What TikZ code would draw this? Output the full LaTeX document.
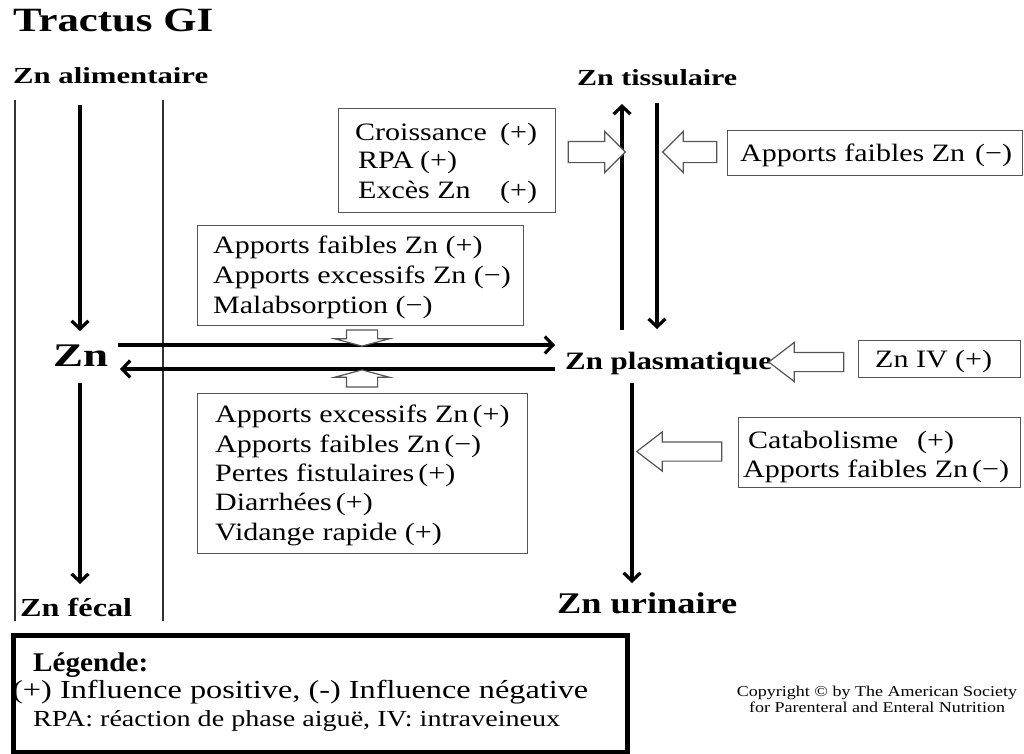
\documentclass[tikz,border=0pt]{standalone}
\usepackage{fontspec}
\setmainfont{Liberation Serif}
\newfontfamily\rmw[FakeStretch=1.2]{Liberation Serif}
\usepackage{graphicx}
\usetikzlibrary{arrows.meta,shapes.arrows}
\definecolor{boxgray}{HTML}{555555}
\newcommand{\hd}[3]{\resizebox{#1pt}{\height}{\fontsize{#2}{#2}\selectfont\bfseries #3}}
\newcommand{\rw}[3]{\resizebox{#1pt}{\height}{\fontsize{#2}{#2}\selectfont #3}}
\tikzset{
  txt/.style={anchor=base west, inner sep=0pt, font=\rmw\fontsize{25}{30}\selectfont},
  head/.style={anchor=base west, inner sep=0pt},
  box/.style={draw=boxgray, line width=1.3pt, anchor=north west, inner sep=0pt},
  hollow/.style n args={3}{single arrow, draw=boxgray, line width=1.2pt, fill=white,
     inner xsep=0pt, inner ysep=#1, single arrow head extend=#2, minimum height=#3},
  bigarrow/.style={line width=3.2pt, -{Straight Barb[length=8pt,width=17pt]}},
  thinline/.style={line width=1.2pt, draw=black!80},
}
\begin{document}
\begin{tikzpicture}[x=1pt,y=-1pt]
\useasboundingbox (0,0) rectangle (1024,753);
% headings
\node[head] (title) at (13,31) {\hd{200}{34}{Tractus GI}};
\node[head] (alim) at (13,83) {\hd{195}{23}{Zn alimentaire}};
\node[head] (tiss) at (577,85) {\hd{160}{23}{Zn tissulaire}};
\node[head] (zn) at (53,366) {\hd{55}{33}{Zn}};
\node[head] (plasma) at (565,369) {\hd{207}{25}{Zn plasmatique}};
\node[head] (fecal) at (20,616) {\hd{112}{26}{Zn f\'ecal}};
\node[head] (urin) at (557,613) {\hd{180}{30}{Zn urinaire}};
% thin tract lines
\coordinate (l1a) at (15,100); \coordinate (l1b) at (15,621);
\coordinate (l2a) at (163,100); \coordinate (l2b) at (163,621);
\draw[thinline] (l1a) -- (l1b);
\draw[thinline] (l2a) -- (l2b);
% big arrows
\coordinate (v1a) at (80,105); \coordinate (v1b) at (80,331);
\coordinate (v2a) at (80,383); \coordinate (v2b) at (80,584);
\coordinate (v3a) at (622,330); \coordinate (v3b) at (622,104);
\coordinate (v4a) at (657,103); \coordinate (v4b) at (657,329);
\coordinate (v5a) at (632,383); \coordinate (v5b) at (632,583);
\coordinate (h1a) at (118,345); \coordinate (h1b) at (555,345);
\coordinate (h2a) at (555,369); \coordinate (h2b) at (120,369);
\draw[bigarrow] (v1a) -- (v1b);
\draw[bigarrow] (v2a) -- (v2b);
\draw[bigarrow] (v3a) -- (v3b);
\draw[bigarrow] (v4a) -- (v4b);
\draw[bigarrow] (v5a) -- (v5b);
\draw[bigarrow] (h1a) -- (h1b);
\draw[bigarrow] (h2a) -- (h2b);
% boxes
\node[box, minimum width=217pt, minimum height=104pt] (b1) at (338,108) {};
\node[txt] (b1l1) at (355,140) {Croissance};
\node[txt] (b1p1) at (500,140) {(+)};
\node[txt] (b1l2) at (358,168) {RPA};
\node[txt] (b1p2) at (420,168) {(+)};
\node[txt] (b1l3) at (358,198) {Exc\`es Zn};
\node[txt] (b1p3) at (500,198) {(+)};

\node[box, minimum width=295pt, minimum height=45pt] (b2) at (727,130) {};
\node[txt] (b2l1) at (740,161) {Apports faibles Zn};
\node[txt] (b2p1) at (975,161) {(−)};

\node[box, minimum width=326pt, minimum height=100pt] (b3) at (197,225) {};
\node[txt] (b3l1) at (213,253) {Apports faibles Zn (+)};
\node[txt] (b3l2) at (213,283) {Apports excessifs Zn (−)};
\node[txt] (b3l3) at (213,313) {Malabsorption (−)};

\node[box, minimum width=330pt, minimum height=160pt] (b4) at (197,393) {};
\node[txt] (b4l1) at (215,422) {Apports excessifs Zn\,(+)};
\node[txt] (b4l2) at (215,452) {Apports faibles Zn\,(−)};
\node[txt] (b4l3) at (215,481) {Pertes fistulaires\,(+)};
\node[txt] (b4l4) at (215,510) {Diarrh\'ees\,(+)};
\node[txt] (b4l5) at (215,540) {Vidange rapide (+)};

\node[box, minimum width=162pt, minimum height=37pt] (b5) at (858,340) {};
\node[txt] (b5l1) at (875,367) {Zn IV (+)};

\node[box, minimum width=282pt, minimum height=70pt] (b6) at (738,417) {};
\node[txt] (b6l1) at (748,448) {Catabolisme};
\node[txt] (b6p1) at (917,448) {(+)};
\node[txt] (b6l2) at (743,477) {Apports faibles Zn};
\node[txt] (b6p2) at (972,477) {(−)};
% hollow arrows
\node[hollow={10pt}{10pt}{57pt}] (ha1) at (591.5,152) {};
\node[hollow={10pt}{10pt}{54pt}, rotate=180] (ha2) at (695,152) {};
\node[hollow={15pt}{12pt}{16pt}, single arrow tip angle=150, rotate=-90] (ha3) at (362,336) {};
\node[hollow={15pt}{12pt}{17pt}, single arrow tip angle=150, rotate=90] (ha4) at (362,380.5) {};
\node[hollow={9pt}{10pt}{75pt}, single arrow tip angle=75, rotate=180] (ha5) at (812.5,362) {};
\node[hollow={9pt}{10pt}{85pt}, single arrow tip angle=75, rotate=180] (ha6) at (685.5,451.5) {};
% legend
\node[draw, line width=5pt, anchor=north west, inner sep=0pt, minimum width=614pt, minimum height=117pt] (leg) at (10.5,633) {};
\node[head] (legt) at (33,671) {\hd{115}{27}{L\'egende:}};
\node[head] (leg1) at (12,698) {\rw{576}{26}{(+) Influence positive, (-) Influence n\'egative}};
\node[head] (leg2) at (33,726) {\rw{527}{23}{RPA: r\'eaction de phase aigu\"e, IV: intraveineux}};
\node[inner sep=0pt, align=center, font=\rmw\fontsize{15}{16}\selectfont] (copy) at (877,699) {Copyright © by The American Society\\for Parenteral and Enteral Nutrition};
\end{tikzpicture}
\end{document}
